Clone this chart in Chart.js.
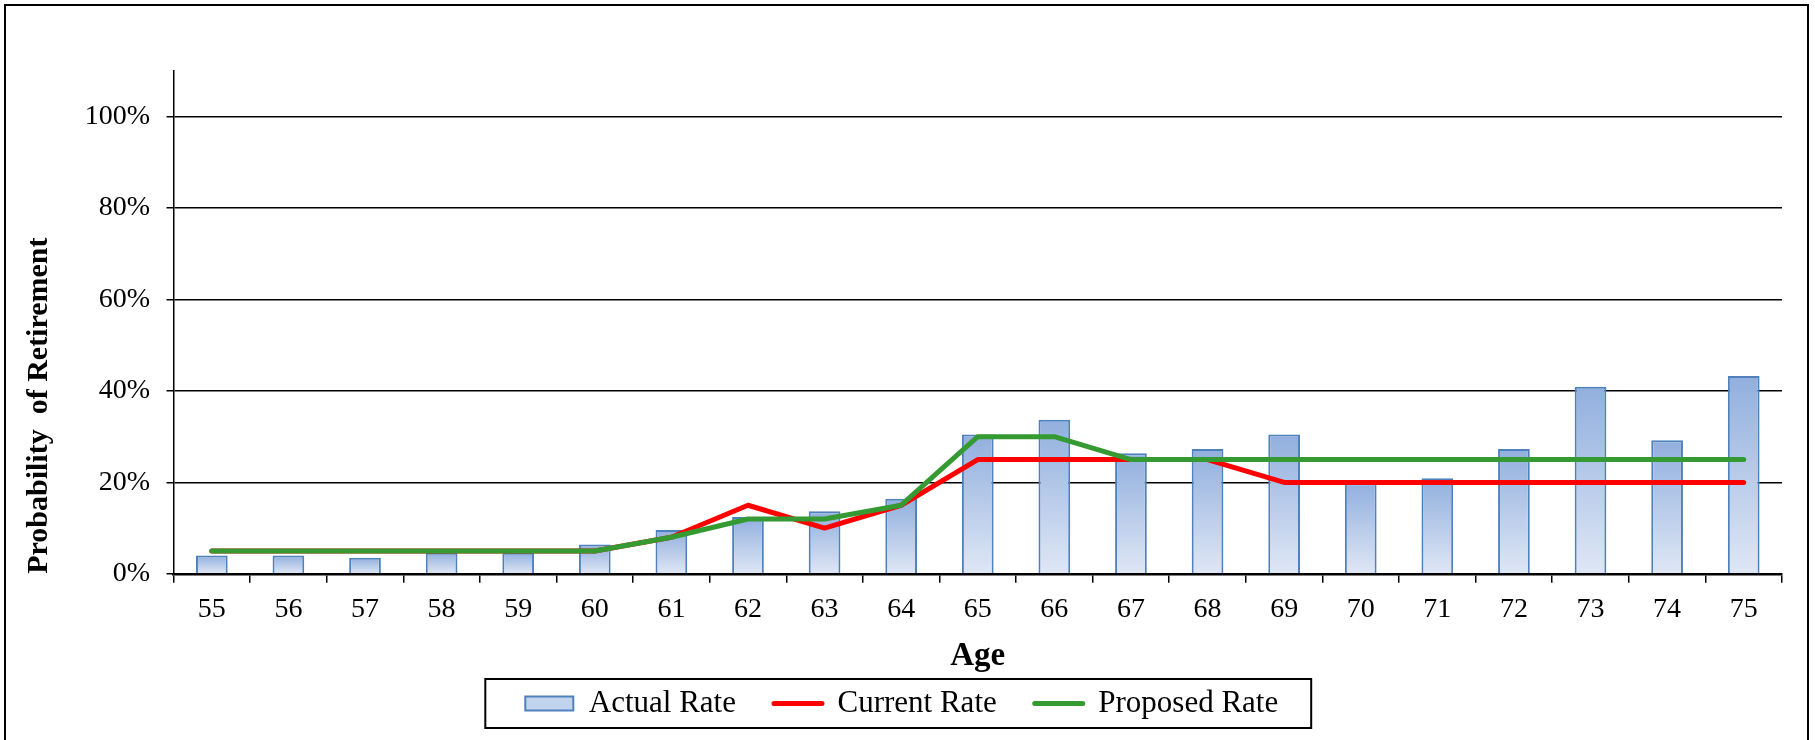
<!DOCTYPE html>
<html>
<head>
<meta charset="utf-8">
<title>Probability of Retirement by Age</title>
<script src="https://cdn.jsdelivr.net/npm/chart.js@4.4.1/dist/chart.umd.min.js"></script>
<style>
  html, body { margin: 0; padding: 0; background: #fff; }
  #wrap { width: 1815px; height: 740px; position: relative; }
</style>
</head>
<body>
<div id="wrap"><canvas id="chart"></canvas></div>
<script>
// ---- data (percent) --------------------------------------------------------
const AGES = ['55', '56', '57', '58', '59', '60', '61', '62', '63', '64', '65',
              '66', '67', '68', '69', '70', '71', '72', '73', '74', '75'];
const ACTUAL_RATE = [4.0, 4.0, 3.5, 4.6, 4.6, 6.4, 9.6, 12.4, 13.7, 16.4, 30.5,
                     33.7, 26.4, 27.3, 30.5, 19.8, 20.9, 27.3, 40.9, 29.2, 43.3];
const CURRENT_RATE = [5, 5, 5, 5, 5, 5, 8, 15, 10, 15, 25,
                      25, 25, 25, 20, 20, 20, 20, 20, 20, 20];
const PROPOSED_RATE = [5, 5, 5, 5, 5, 5, 8, 12, 12, 15, 30,
                       30, 25, 25, 25, 25, 25, 25, 25, 25, 25];
const Y_MAX = 110;
const Y_STEP = 20;

const COLORS = {
  barTop: '#91AFDE',
  barBottom: '#DFE7F5',
  barLegend: '#C2D3EE',
  barBorder: '#4F81BD',
  current: '#FF0000',
  proposed: '#359A32',
  axis: '#000000',
};
const FONT = 'Liberation Serif';

// vertical gradient per bar, from its top down to the 0% line
function barGradient(ctx) {
  const chart = ctx.chart;
  const y = chart.scales && chart.scales.y;
  if (!chart.chartArea || !y || typeof ctx.raw !== 'number') return COLORS.barLegend;
  const top = y.getPixelForValue(ctx.raw);
  const base = y.getPixelForValue(0);
  const g = chart.ctx.createLinearGradient(0, top, 0, base);
  g.addColorStop(0, COLORS.barTop);
  g.addColorStop(1, COLORS.barBottom);
  return g;
}

// box around the legend row
const legendFrame = {
  id: 'legendFrame',
  afterDraw(chart) {
    const boxes = chart.legend && chart.legend.legendHitBoxes;
    if (!boxes || !boxes.length) return;
    const first = boxes[0];
    const last = boxes[boxes.length - 1];
    const left = first.left - 40;
    const right = last.left + last.width + 33;
    const top = first.top - 9;
    const bottom = first.top + first.height + 9;
    const c = chart.ctx;
    c.save();
    c.strokeStyle = COLORS.axis;
    c.lineWidth = 2;
    c.strokeRect(left, top, right - left, bottom - top);
    c.restore();
  },
};

// outer chart frame
const outerFrame = {
  id: 'outerFrame',
  afterDraw(chart) {
    const c = chart.ctx;
    c.save();
    c.strokeStyle = COLORS.axis;
    c.lineWidth = 2;
    c.strokeRect(5, 5, chart.width - 12, chart.height + 20);
    c.restore();
  },
};

new Chart(document.getElementById('chart'), {
  type: 'bar',
  data: {
    labels: AGES,
    datasets: [
      {
        type: 'bar',
        label: 'Actual Rate',
        data: ACTUAL_RATE,
        backgroundColor: barGradient,
        borderColor: COLORS.barBorder,
        borderWidth: 2,
        categoryPercentage: 1,
        barPercentage: 0.414,
        order: 3,
      },
      {
        type: 'line',
        label: 'Current Rate',
        data: CURRENT_RATE,
        borderColor: COLORS.current,
        backgroundColor: COLORS.current,
        borderWidth: 5,
        borderCapStyle: 'round',
        borderJoinStyle: 'round',
        pointRadius: 0,
        tension: 0,
        fill: false,
        order: 2,
      },
      {
        type: 'line',
        label: 'Proposed Rate',
        data: PROPOSED_RATE,
        borderColor: COLORS.proposed,
        backgroundColor: COLORS.proposed,
        borderWidth: 5,
        borderCapStyle: 'round',
        borderJoinStyle: 'round',
        pointRadius: 0,
        tension: 0,
        fill: false,
        order: 1,
      },
    ],
  },
  options: {
    responsive: true,
    maintainAspectRatio: false,
    animation: false,
    layout: { padding: { left: 21.5, right: 33, top: 71, bottom: 11 } },
    plugins: {
      tooltip: { enabled: false },
      legend: {
        position: 'bottom',
        labels: {
          color: '#000',
          font: { family: FONT, size: 31 },
          usePointStyle: true,
          pointStyleWidth: 48,
          boxHeight: 14,
          padding: 38,
          sort: (a, b) => a.datasetIndex - b.datasetIndex,
          generateLabels(chart) {
            const items = Chart.defaults.plugins.legend.labels.generateLabels(chart);
            items.forEach(item => {
              const ds = chart.data.datasets[item.datasetIndex];
              if (ds.type === 'line') {
                item.pointStyle = 'line';
                item.strokeStyle = ds.borderColor;
                item.lineWidth = 5;
                item.lineCap = 'round';
              } else {
                item.pointStyle = 'rect';
                item.fillStyle = COLORS.barLegend;
                item.strokeStyle = COLORS.barBorder;
                item.lineWidth = 2;
              }
            });
            return items;
          },
        },
      },
    },
    scales: {
      x: {
        grid: {
          display: true,
          drawOnChartArea: false,
          drawTicks: true,
          tickLength: 9,
          color: COLORS.axis,
          lineWidth: 1.5,
        },
        border: { display: true, color: COLORS.axis, width: 2.5 },
        ticks: {
          color: '#000',
          font: { family: FONT, size: 28 },
          padding: 10,
          maxRotation: 0,
          autoSkip: false,
        },
        title: {
          display: true,
          text: 'Age',
          color: '#000',
          font: { family: FONT, size: 33, weight: 'bold' },
          padding: { top: 0, bottom: -26 },
        },
      },
      y: {
        min: 0,
        max: Y_MAX,
        grid: {
          color: COLORS.axis,
          lineWidth: 1.5,
          tickLength: 7,
        },
        border: { display: true, color: COLORS.axis, width: 1.5 },
        ticks: {
          stepSize: Y_STEP,
          includeBounds: false,
          color: '#000',
          font: { family: FONT, size: 28 },
          padding: 16.5,
          callback: (v) => v + '%',
        },
        title: {
          display: true,
          text: 'Probability  of Retirement',
          align: 'start',
          color: '#000',
          font: { family: FONT, size: 30, weight: 'bold' },
          padding: { top: 0, bottom: 10.7 },
        },
      },
    },
  },
  plugins: [legendFrame, outerFrame],
});
</script>
</body>
</html>
